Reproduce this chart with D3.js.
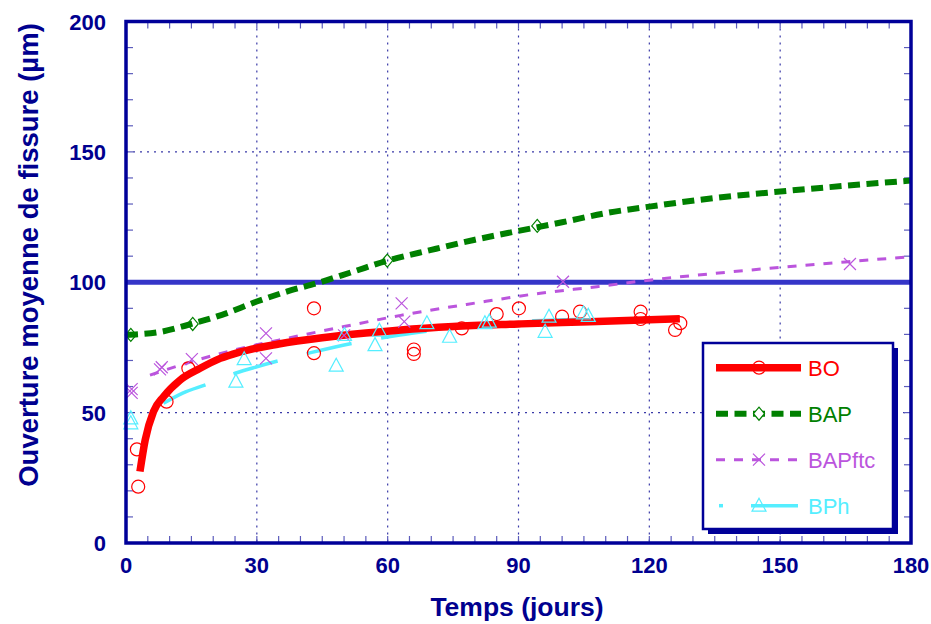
<!DOCTYPE html>
<html>
<head>
<meta charset="utf-8">
<script src="https://cdn.jsdelivr.net/npm/d3@7"></script>
<style>
  body { margin: 0; background: #fff; }
  svg { display: block; }
</style>
</head>
<body>
<div id="vis"></div>
<script>
// axis ticks
const xTicks = [0, 30, 60, 90, 120, 150, 180]
const yTicks = [0, 50, 100, 150, 200]
const threshold = 100

// BO : measured points and fitted curve
const boDays = [2.8, 2.5, 9.3, 14.3, 43.1, 43.1, 66, 66, 77, 85, 90.1, 100, 104.1, 118, 118, 125.9, 127.1]
const boValues = [21.6, 35.9, 54.2, 67, 90, 72.8, 72.5, 74.2, 82.3, 87.8, 90, 86.8, 88.7, 88.7, 85.9, 81.7, 84.3]
const boFitDays = [3.2, 4.4, 6.3, 8.6, 12.4, 17, 21.6, 26, 35, 45, 55, 63, 75, 90, 100, 113, 127]
const boFitValues = [27.4, 39.5, 50.4, 56.1, 62.5, 67, 70.8, 73.2, 76.3, 78.7, 80.5, 81.7, 83, 84, 84.6, 85.2, 86]

// BAP
const bapDays = [1.1, 15.3, 59.9, 94.3]
const bapValues = [79.8, 84, 108.3, 121.6]
const bapFitDays = [0, 8, 15, 22, 30, 37, 44.5, 52, 60, 70, 80, 90, 100, 110, 120, 135, 150, 165, 180]
const bapFitValues = [79.8, 81, 84, 87.5, 92.6, 96.5, 100, 104, 108.3, 112.4, 116.3, 119.7, 123, 126.5, 129, 132.3, 134.8, 137, 139]

// BAPftc
const ftcDays = [1.3, 1.3, 7.8, 8.2, 15.1, 32.1, 32.1, 50, 63.2, 63.8, 100.2, 166]
const ftcValues = [57.6, 59, 66.6, 67.4, 70.5, 80.4, 70.8, 79.6, 91.9, 84.9, 100.2, 107]
const ftcFitDays = [5.5, 14, 24, 35, 50, 63, 80, 95, 108, 120, 135, 150, 165, 180]
const ftcFitValues = [64.4, 69, 73.7, 77.8, 83, 87.3, 92, 95.8, 98.3, 100.8, 103.4, 105.7, 107.8, 109.8]

// BPh
const bphDays = [1.1, 1.1, 25.2, 27.1, 48.2, 50.1, 57.1, 58.1, 69, 74.2, 82.3, 83.3, 96.1, 97, 104.9, 106]
const bphValues = [47.8, 45.9, 61.9, 70.5, 68, 79.8, 75.9, 81.4, 84.3, 79.1, 84.3, 84.9, 81, 86.8, 88.1, 87.1]
const bphFitDays = [8.6, 13, 18.6, 25.4, 30, 35.7, 42.6, 52.5, 62.8, 69.7, 81, 86.5, 93.4, 107]
const bphFitValues = [53.6, 57.5, 60.9, 65.3, 67.6, 70.2, 73.1, 76.8, 79.8, 81.4, 83.6, 84.5, 85.2, 85.8]

const navy = '#000099'
const textNavy = '#00008f'
const W = 931, H = 624
const plotLeft = 126, plotRight = 911, plotTop = 21.5, plotBottom = 543

const svg = d3.select('#vis').append('svg')
  .attr('width', W).attr('height', H)
  .style('font-family', 'Arial, "Liberation Sans", sans-serif')

const x = d3.scaleLinear().domain([0, 180]).range([plotLeft, plotRight])
const y = d3.scaleLinear().domain([0, 200]).range([plotBottom, plotTop])

// dotted grid
const grid = svg.append('g').attr('stroke', '#3a3aa8').attr('stroke-width', 1.2).attr('stroke-dasharray', '2,5')
grid.selectAll('.gx').data(xTicks.filter(d => d > 0 && d < 180)).enter().append('line')
  .attr('x1', d => x(d)).attr('x2', d => x(d)).attr('y1', plotTop).attr('y2', plotBottom)
grid.selectAll('.gy').data(yTicks.filter(d => d > 0)).enter().append('line')
  .attr('y1', d => y(d)).attr('y2', d => y(d)).attr('x1', plotLeft).attr('x2', plotRight)

// minor ticks, inward on all four sides
const tickCol = '#5c5cbc'
const xMinor = d3.range(0, 181, 5)
const yMinor = d3.range(0, 201, 10)
const tk = svg.append('g').attr('stroke', tickCol).attr('stroke-width', 1.2)
xMinor.forEach(d => {
  tk.append('line').attr('x1', x(d)).attr('x2', x(d)).attr('y1', plotBottom).attr('y2', plotBottom - 7)
  tk.append('line').attr('x1', x(d)).attr('x2', x(d)).attr('y1', plotTop).attr('y2', plotTop + 7)
})
yMinor.forEach(d => {
  tk.append('line').attr('y1', y(d)).attr('y2', y(d)).attr('x1', plotLeft).attr('x2', plotLeft + 7)
  tk.append('line').attr('y1', y(d)).attr('y2', y(d)).attr('x1', plotRight).attr('x2', plotRight - 7)
})

// threshold line at 100
svg.append('line')
  .attr('x1', x(0)).attr('x2', x(180)).attr('y1', y(threshold)).attr('y2', y(threshold))
  .attr('stroke', '#3535c8').attr('stroke-width', 5)

const line = d3.line().curve(d3.curveMonotoneX)
const pts = (xs, ys) => xs.map((d, i) => [x(d), y(ys[i])])

// fitted curves
svg.append('path').attr('d', line(pts(bphFitDays, bphFitValues)))
  .attr('fill', 'none').attr('stroke', '#55eeff').attr('stroke-width', 3.5).attr('stroke-dasharray', '46,30')
svg.append('path').attr('d', line(pts(ftcFitDays, ftcFitValues)))
  .attr('fill', 'none').attr('stroke', '#bb55dd').attr('stroke-width', 3).attr('stroke-dasharray', '9,9')
svg.append('path').attr('d', line(pts(bapFitDays, bapFitValues)))
  .attr('fill', 'none').attr('stroke', '#008000').attr('stroke-width', 6).attr('stroke-dasharray', '12,6.5')
svg.append('path').attr('d', line(pts(boFitDays, boFitValues)))
  .attr('fill', 'none').attr('stroke', '#ff0000').attr('stroke-width', 7.5)

// marker shapes
const diamond = 'M0,-6.5L5.5,0L0,6.5L-5.5,0Z'
const cross = 'M-6,-6L6,6M-6,6L6,-6'
const triangle = 'M0,-7.5L7,5.5L-7,5.5Z'

function markers(xs, ys, shape, color) {
  svg.append('g').selectAll('path').data(xs).enter().append('path')
    .attr('d', shape)
    .attr('transform', (d, i) => 'translate(' + x(d) + ',' + y(ys[i]) + ')')
    .attr('fill', 'none').attr('stroke', color).attr('stroke-width', 1.2)
}
svg.append('g').selectAll('circle').data(boDays).enter().append('circle')
  .attr('cx', d => x(d)).attr('cy', (d, i) => y(boValues[i])).attr('r', 6.5)
  .attr('fill', 'none').attr('stroke', '#ff0000').attr('stroke-width', 1.2)
markers(bapDays, bapValues, diamond, '#008000')
markers(ftcDays, ftcValues, cross, '#bb55dd')
markers(bphDays, bphValues, triangle, '#55eeff')

// frame
svg.append('rect').attr('x', plotLeft).attr('y', plotTop)
  .attr('width', plotRight - plotLeft).attr('height', plotBottom - plotTop)
  .attr('fill', 'none').attr('stroke', navy).attr('stroke-width', 3.5)

// tick labels
svg.append('g').selectAll('text').data(xTicks).enter().append('text')
  .attr('x', d => x(d)).attr('y', 573).attr('text-anchor', 'middle')
  .attr('font-size', 22).attr('font-weight', 'bold').attr('fill', textNavy).text(d => d)
svg.append('g').selectAll('text').data(yTicks).enter().append('text')
  .attr('x', 106).attr('y', d => y(d) + 8).attr('text-anchor', 'end')
  .attr('font-size', 22).attr('font-weight', 'bold').attr('fill', textNavy).text(d => d)

// axis titles
svg.append('text').attr('x', 517).attr('y', 616).attr('text-anchor', 'middle')
  .attr('font-size', 26.5).attr('font-weight', 'bold').attr('fill', textNavy).text('Temps (jours)')
svg.append('text').attr('transform', 'translate(38,255) rotate(-90)').attr('text-anchor', 'middle')
  .attr('font-size', 27.5).attr('font-weight', 'bold').attr('fill', textNavy).text('Ouverture moyenne de fissure (µm)')

// legend
const lg = svg.append('g')
const lx = 703, ly = 343, lw = 190, lh = 186
lg.append('rect').attr('x', lx + 5).attr('y', ly + 5).attr('width', lw).attr('height', lh).attr('fill', navy)
lg.append('rect').attr('x', lx).attr('y', ly).attr('width', lw).attr('height', lh)
  .attr('fill', '#fff').attr('stroke', navy).attr('stroke-width', 2.5)

const legendItems = [
  { name: 'BO', color: '#ff0000', width: 7.5, dash: null, mark: 'circle' },
  { name: 'BAP', color: '#008000', width: 6, dash: '12,6.5', mark: diamond },
  { name: 'BAPftc', color: '#bb55dd', width: 3, dash: '9,9', mark: cross },
  { name: 'BPh', color: '#55eeff', width: 3.5, dash: null, mark: triangle }
]
legendItems.forEach((it, i) => {
  const yy = 367.7 + i * 46
  if (it.name === 'BPh') {
    lg.append('line').attr('x1', 719).attr('x2', 723).attr('y1', yy).attr('y2', yy)
      .attr('stroke', it.color).attr('stroke-width', it.width)
    lg.append('line').attr('x1', 751).attr('x2', 798).attr('y1', yy).attr('y2', yy)
      .attr('stroke', it.color).attr('stroke-width', it.width)
  } else {
    lg.append('line').attr('x1', 716).attr('x2', 801).attr('y1', yy).attr('y2', yy)
      .attr('stroke', it.color).attr('stroke-width', it.width)
      .attr('stroke-dasharray', it.dash)
  }
  if (it.mark === 'circle') {
    lg.append('circle').attr('cx', 759).attr('cy', yy).attr('r', 6.5)
      .attr('fill', 'none').attr('stroke', it.color).attr('stroke-width', 1.2)
  } else {
    lg.append('path').attr('d', it.mark).attr('transform', 'translate(759,' + yy + ')')
      .attr('fill', it.name === 'BAP' ? '#fff' : 'none').attr('stroke', it.color).attr('stroke-width', 1.2)
  }
  lg.append('text').attr('x', 808).attr('y', yy + 8).attr('font-size', 22)
    .attr('fill', it.color).text(it.name)
})
</script>
</body>
</html>
